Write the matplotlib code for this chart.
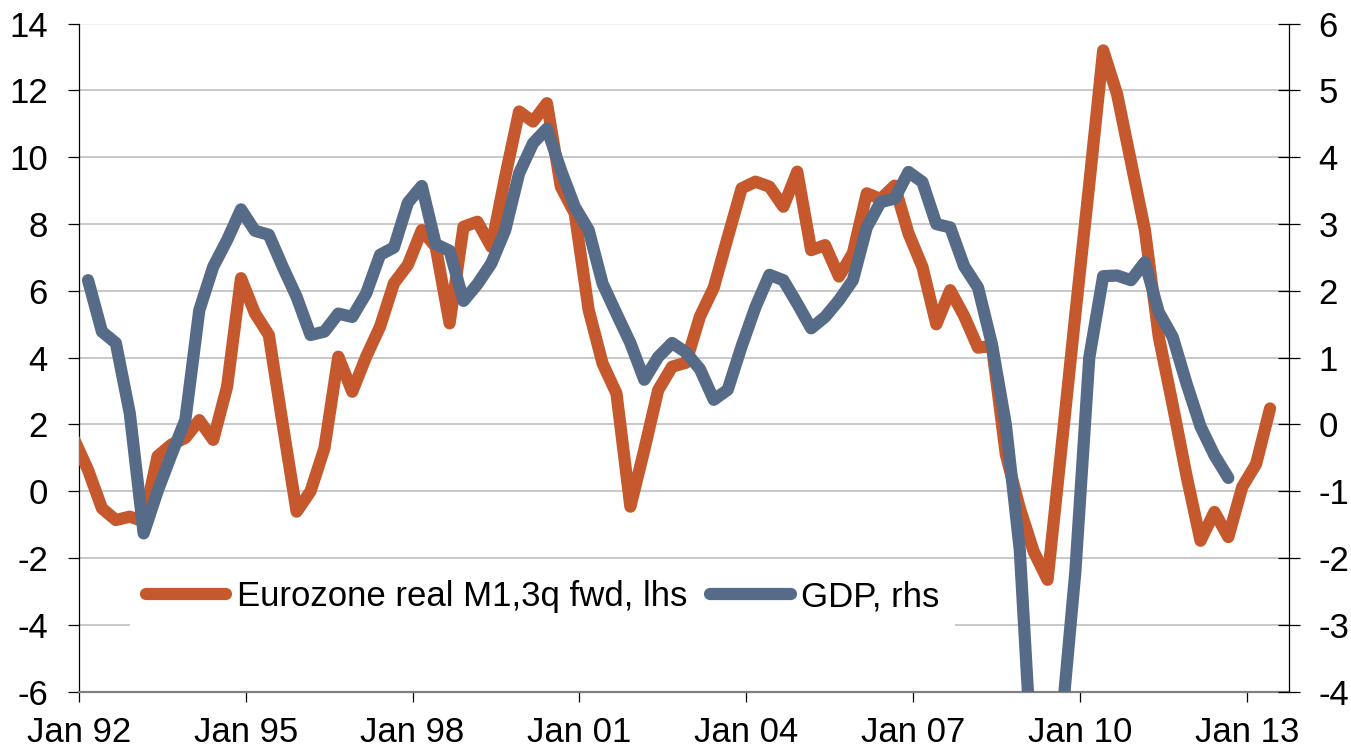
import matplotlib
matplotlib.use("Agg")
import matplotlib.pyplot as plt
import pandas as pd

# ---------------- data ----------------
m1_start = "1991Q4"   # Eurozone real M1, 3q fwd (lhs), quarterly
m1_values = [1.55, 0.64, -0.51, -0.86, -0.76, -0.9, 1.05, 1.4, 1.6, 2.13,
             1.54, 3.13, 6.38, 5.33, 4.68, 2.0, -0.61, 0.0, 1.29, 4.03,
             2.98, 4.03, 4.93, 6.23, 6.78, 7.82, 7.32, 5.03, 7.92, 8.07,
             7.32, 9.42, 11.37, 11.07, 11.62, 9.12, 8.32, 5.43, 3.83, 2.93,
             -0.46, 1.24, 3.03, 3.73, 3.85, 5.23, 6.1, 7.6, 9.07, 9.27,
             9.12, 8.52, 9.57, 7.22, 7.37, 6.43, 7.13, 8.92, 8.75, 9.15,
             7.72, 6.72, 5.0, 6.02, 5.25, 4.3, 4.35, 1.1, -0.5, -1.8,
             -2.65, 1.3, 5.3, 9.2, 13.2, 11.89, 9.86, 7.82, 4.62, 2.58,
             0.45, -1.48, -0.62, -1.37, 0.13, 0.82, 2.48]

gdp_start = "1992Q1"  # GDP y/y (rhs), quarterly
gdp_values = [2.16, 1.39, 1.22, 0.17, -1.63, -1.0, -0.45, 0.07, 1.71, 2.36,
              2.76, 3.22, 2.9, 2.84, 2.36, 1.91, 1.34, 1.39, 1.66, 1.61,
              1.96, 2.54, 2.65, 3.32, 3.57, 2.7, 2.6, 1.85, 2.1, 2.41,
              2.91, 3.76, 4.21, 4.43, 3.81, 3.26, 2.91, 2.11, 1.66, 1.22,
              0.67, 1.01, 1.22, 1.08, 0.83, 0.37, 0.52, 1.17, 1.76, 2.24,
              2.16, 1.81, 1.44, 1.61, 1.86, 2.16, 2.95, 3.33, 3.38, 3.78,
              3.63, 3.0, 2.95, 2.37, 2.05, 1.2, 0.0, -1.87, -5.5, -5.2,
              -4.5, -2.2, 1.0, 2.22, 2.23, 2.16, 2.43, 1.68, 1.31, 0.61,
              -0.03, -0.46, -0.80]

series_labels = ["Eurozone real M1,3q fwd, lhs", "GDP, rhs"]
xtick_years = [1992, 1995, 1998, 2001, 2004, 2007, 2010, 2013]
xtick_labels = ["Jan 92", "Jan 95", "Jan 98", "Jan 01", "Jan 04",
                "Jan 07", "Jan 10", "Jan 13"]
left_ticks = [-6, -4, -2, 0, 2, 4, 6, 8, 10, 12, 14]
right_ticks = [-4, -3, -2, -1, 0, 1, 2, 3, 4, 5, 6]


def quarter_x(start, n):
    per = pd.period_range(start, periods=n, freq="Q")
    # plotted at the first day of the last month of each quarter
    return [p.year + (p.quarter * 3 - 1) / 12.0 for p in per]


x_m1 = quarter_x(m1_start, len(m1_values))
x_gdp = quarter_x(gdp_start, len(gdp_values))

# ---------------- style ----------------
plt.rcParams["font.family"] = ["Liberation Sans", "DejaVu Sans"]
ORANGE = "#C5582C"
BLUE = "#566B88"
LW = 8.8
FS = 25

fig = plt.figure(figsize=(13.51, 7.49), dpi=100)
ax1 = fig.add_axes([0.0583, 0.0765, 0.8960, 0.8919])
ax2 = ax1.twinx()

# gridlines (left-axis units)
for v in left_ticks[1:-1]:
    ax1.axhline(v, color="#C4C4C4", lw=1.3, zorder=0)
ax1.axhline(14, color="#F0F0F0", lw=1.3, zorder=0)

l1, = ax1.plot(x_m1, m1_values, color=ORANGE, lw=LW,
               solid_capstyle="round", solid_joinstyle="round", zorder=3)
l2, = ax2.plot(x_gdp, gdp_values, color=BLUE, lw=LW,
               solid_capstyle="round", solid_joinstyle="round", zorder=3)

ax1.set_xlim(1992, 2013.762)
ax1.set_ylim(-6, 14)
ax2.set_ylim(-4, 6)

ax1.set_yticks(left_ticks)
ax1.set_yticklabels([str(t) for t in left_ticks])
ax2.set_yticks(right_ticks)
ax2.set_yticklabels([str(t) for t in right_ticks])
ax1.set_xticks(xtick_years)
ax1.set_xticklabels(xtick_labels)

ax1.tick_params(axis="y", direction="out", length=7.7, width=0.9,
                pad=14.5, labelsize=FS, colors="black")
ax1.tick_params(axis="x", direction="out", length=7.2, width=0.9,
                pad=10.5, labelsize=FS, colors="black")
ax2.tick_params(axis="y", direction="inout", length=16, width=0.9,
                pad=13, labelsize=FS, colors="black")

for ax in (ax1, ax2):
    ax.spines["top"].set_visible(False)
ax2.spines["left"].set_visible(False)
ax2.spines["bottom"].set_visible(False)
ax1.spines["right"].set_visible(False)
ax1.spines["left"].set_color("black")
ax1.spines["left"].set_linewidth(0.9)
ax2.spines["right"].set_color("black")
ax2.spines["right"].set_linewidth(0.9)
ax1.spines["bottom"].set_color("#808080")
ax1.spines["bottom"].set_linewidth(1.6)

leg = ax2.legend([l1, l2], series_labels, loc="center left",
                 bbox_to_anchor=(0.0962, 0.203), bbox_transform=fig.transFigure,
                 ncol=2, fontsize=FS, handlelength=2.33, handletextpad=0.3,
                 columnspacing=0.65, borderpad=0.45, borderaxespad=0,
                 frameon=True, fancybox=False)
leg.get_frame().set_facecolor("white")
leg.get_frame().set_edgecolor("none")
leg.get_frame().set_alpha(1)

fig.savefig("out.png", dpi=100)
